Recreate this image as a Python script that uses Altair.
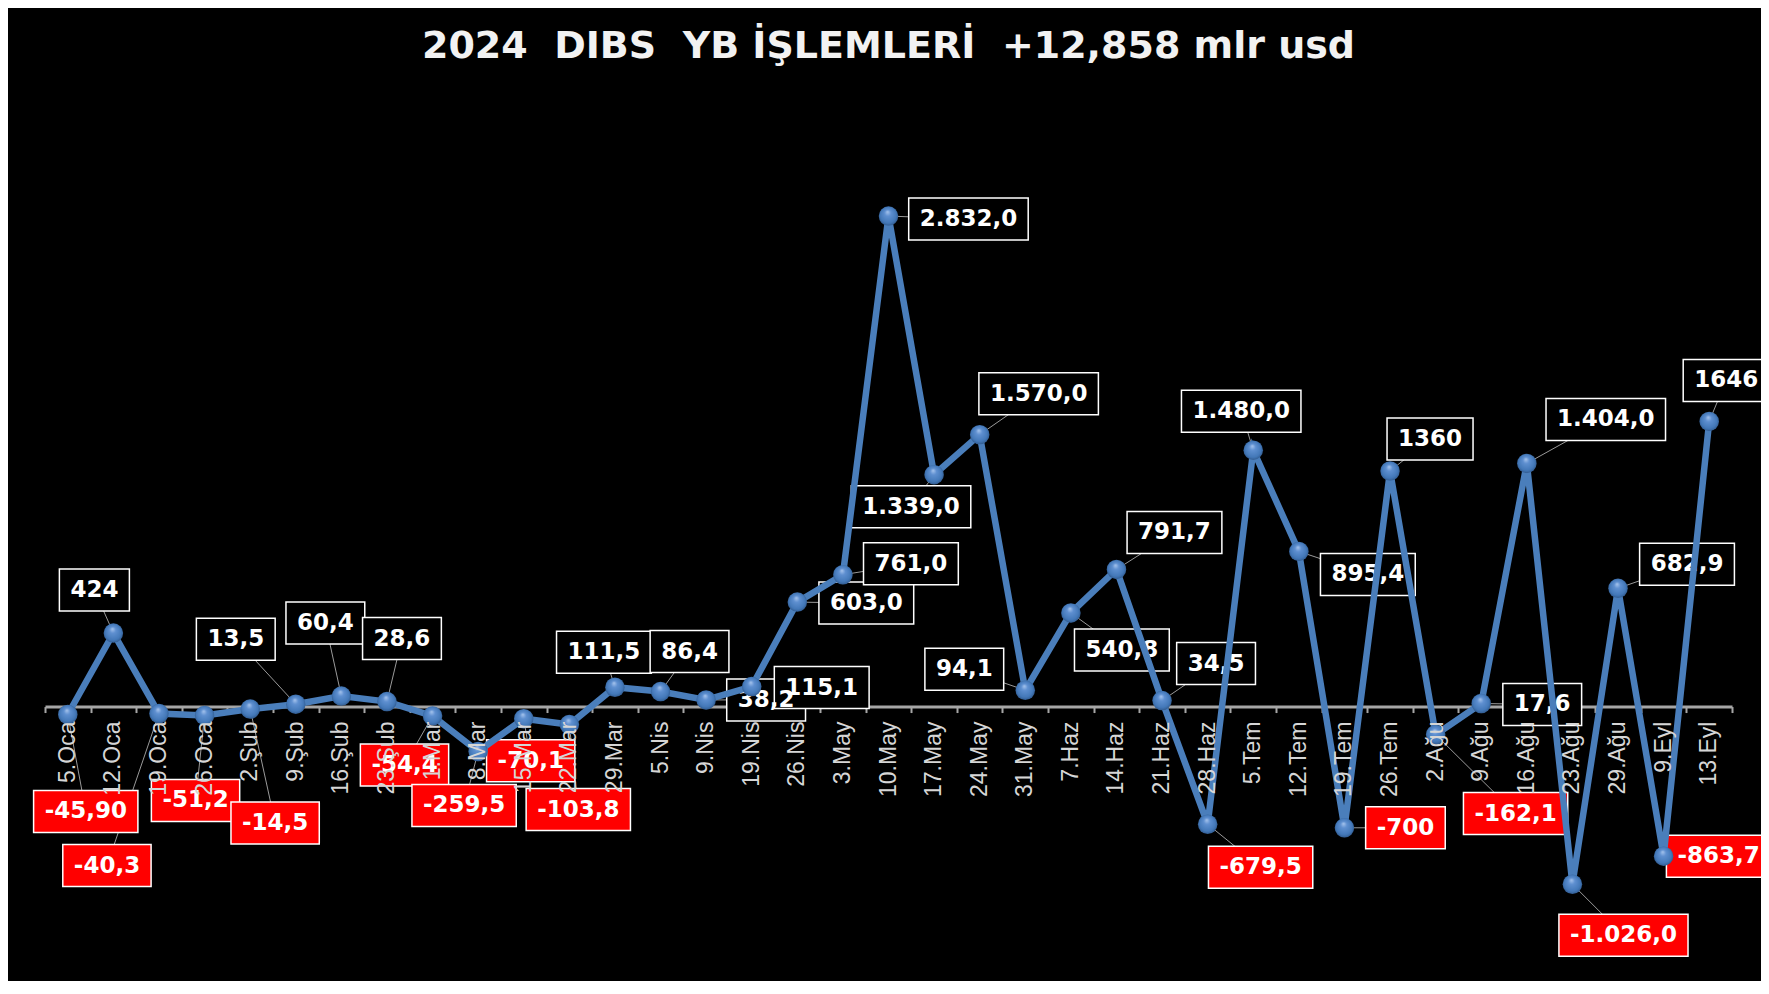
import altair as alt
import pandas as pd

# ---- data ----
categories = ["5.Oca", "12.Oca", "19.Oca", "26.Oca", "2.Şub", "9.Şub", "16.Şub", "23.Şub",
              "1.Mar", "8.Mar", "15.Mar", "22.Mar", "29.Mar", "5.Nis", "9.Nis", "19.Nis",
              "26.Nis", "3.May", "10.May", "17.May", "24.May", "31.May", "7.Haz", "14.Haz",
              "21.Haz", "28.Haz", "5.Tem", "12.Tem", "19.Tem", "26.Tem", "2.Ağu", "9.Ağu",
              "16.Ağu", "23.Ağu", "29.Ağu", "9.Eyl", "13.Eyl"]
values = [-45.9, 424, -40.3, -51.2, -14.5, 13.5, 60.4, 28.6,
          -54.4, -259.5, -70.1, -103.8, 111.5, 86.4, 38.2, 115.1,
          603.0, 761.0, 2832.0, 1339.0, 1570.0, 94.1, 540.8, 791.7,
          34.5, -679.5, 1480.0, 895.4, -700, 1360, -162.1, 17.6,
          1404.0, -1026.0, 682.9, -863.7, 1646]
value_labels = ["-45,90", "424", "-40,3", "-51,2", "-14,5", "13,5", "60,4", "28,6",
                "-54,4", "-259,5", "-70,1", "-103,8", "111,5", "86,4", "38,2", "115,1",
                "603,0", "761,0", "2.832,0", "1.339,0", "1.570,0", "94,1", "540,8", "791,7",
                "34,5", "-679,5", "1.480,0", "895,4", "-700", "1360", "-162,1", "17,6",
                "1.404,0", "-1.026,0", "682,9", "-863,7", "1646"]

# ---- layout: label box offsets (pixels, relative to each point) ----
label_dx = [18, -19, -52, -9, 25, -60, -16, 15, -28, -14, 7, 9, -11, 29, 60, 70, 69, 68, 80, -23,
            59, -61, 51, 58, 54, 53, -12, 69, 61, 40, 80, 61, 79, 51, 69, 55, 17]
label_dy = [97, -43, 152, 85, 114, -65, -73, -63, 49, 54, 42, 85, -35, -40, 0, 1, 1, -11, 3, 32,
            -41, -21, 37, -37, -37, 43, -39, 23, 0, -32, 79, 1, -44, 51, -24, 0, -41]

FONT_SIZE = 23
BOX_H = 42
CHAR_W = {"-": 0.415, ",": 0.38, ".": 0.38}


def text_width(s):
    return sum(CHAR_W.get(c, 0.696) for c in s) * FONT_SIZE


rows = []
for c, v, lab, dx, dy in zip(categories, values, value_labels, label_dx, label_dy):
    w = text_width(lab) + 22
    box = f"M{dx - w / 2:.1f},{dy - BOX_H / 2:.1f}h{w:.1f}v{BOX_H}h{-w:.1f}Z"
    lead = f"M0,0L{dx},{dy}"
    rows.append(dict(cat=c, val=v, label=lab, dx=dx, dy=dy, box=box, lead=lead,
                     boxfill="#FF0000" if v < 0 else "#000000"))
df = pd.DataFrame(rows)

PLOT_W, PLOT_H = 1687, 840
Y_MIN, Y_MAX = -1550, 3300
zero_from_bottom = PLOT_H * (0 - Y_MIN) / (Y_MAX - Y_MIN)

x_enc = alt.X("cat:N", sort=categories,
              scale=alt.Scale(type="band", domain=categories, paddingInner=0, paddingOuter=0),
              axis=alt.Axis(title=None, labels=False, domain=True, domainColor="#a6a6a6",
                            domainWidth=3, ticks=True, tickColor="#a6a6a6", tickWidth=2,
                            tickSize=6, tickBand="extent", grid=False,
                            offset=-zero_from_bottom, zindex=0))
y_enc = alt.Y("val:Q", scale=alt.Scale(domain=[Y_MIN, Y_MAX], nice=False, zero=False), axis=None)

base = alt.Chart(df).encode(x=x_enc, y=y_enc)

leaders = base.mark_point(filled=False, size=4, stroke="#9a9a9a", strokeWidth=1, opacity=1).encode(
    shape=alt.Shape("lead:N", scale=None, legend=None))

boxes = base.mark_point(filled=True, size=4, stroke="#ffffff", strokeWidth=1.5, opacity=1).encode(
    shape=alt.Shape("box:N", scale=None, legend=None),
    fill=alt.Fill("boxfill:N", scale=None, legend=None))

box_text = base.mark_text(font="DejaVu Sans", fontWeight="bold", fontSize=FONT_SIZE, color="white",
                          align="center", baseline="middle",
                          dx={"expr": "datum.dx"}, dy={"expr": "datum.dy"}).encode(
    text="label:N")

line = base.mark_line(color="#4A7EBB", strokeWidth=6.5)

sphere = {"gradient": "radial", "x1": 0.45, "y1": 0.28, "r1": 0.0,
          "x2": 0.5, "y2": 0.5, "r2": 0.55,
          "stops": [{"offset": 0.0, "color": "#a9c6ee"},
                    {"offset": 0.3, "color": "#5e8fd0"},
                    {"offset": 0.75, "color": "#4378b8"},
                    {"offset": 1.0, "color": "#2c5283"}]}
points = base.mark_circle(size=380, fill=sphere, opacity=1)

cat_labels = base.mark_text(font="Liberation Sans", fontSize=23, color="#d6d6d6", angle=270,
                            align="right", baseline="middle", dx=-15).encode(
    y=alt.datum(0), text="cat:N")

chart = alt.layer(leaders, boxes, box_text, line, points, cat_labels).properties(
    width=PLOT_W, height=PLOT_H,
    autosize=alt.AutoSizeParams(type="none"),
    padding={"left": 37, "top": 127, "right": 29, "bottom": 6},
    background="#000000",
    title=alt.TitleParams(
        text="2024\u00a0\u00a0DIBS\u00a0\u00a0YB İŞLEMLERİ\u00a0\u00a0+12,858 mlr usd",
        font="DejaVu Sans", fontSize=38, fontWeight="bold", color="#f2f2f2",
        anchor="middle", offset=69)
).configure_view(strokeWidth=0)

chart.save("out.html", embed_options={"renderer": "svg", "actions": False})
